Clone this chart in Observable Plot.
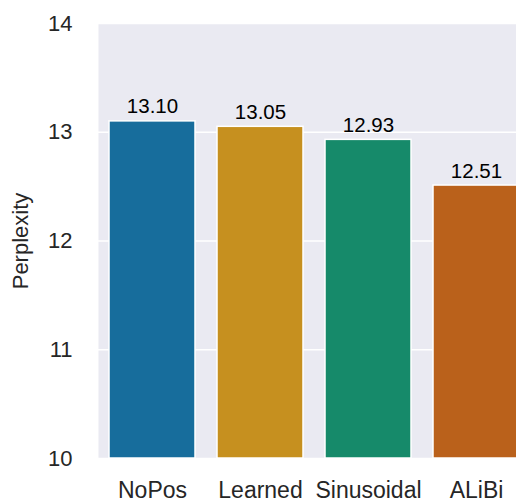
<!DOCTYPE html>
<html>
<head>
<meta charset="utf-8">
<script src="https://cdn.jsdelivr.net/npm/d3@7"></script>
<script src="https://cdn.jsdelivr.net/npm/@observablehq/plot@0.6"></script>
<style>
  html, body { margin: 0; padding: 0; background: #fff; overflow: hidden; }
  #chart svg { overflow: hidden; }
</style>
</head>
<body>
<div id="chart"></div>
<script>
const categories = ["NoPos", "Learned", "Sinusoidal", "ALiBi"];
const perplexity = [13.10, 13.05, 12.93, 12.51];
const colors = ["#176D9C", "#C6901F", "#168A6A", "#BA611B"];
const yTicks = [10, 11, 12, 13, 14];

const data = categories.map((c, i) => ({ name: c, value: perplexity[i], base: 10 }));

const chart = Plot.plot({
  width: 516,
  height: 502,
  marginLeft: 98,
  marginRight: -14,
  marginTop: 23,
  marginBottom: 44,
  style: { fontFamily: "'Liberation Sans', Arial, sans-serif", fontSize: "22px", color: "#262626", background: "#fff", overflow: "hidden" },
  x: { domain: categories, paddingInner: 0.2, paddingOuter: 0.1, label: null, tickSize: 0, tickPadding: 23 },
  y: { domain: [10, 14], ticks: yTicks, label: "Perplexity", labelAnchor: "center", labelArrow: "none", labelOffset: 86, tickSize: 0, tickPadding: 26, tickFormat: d => String(d) },
  color: { domain: categories, range: colors },
  marks: [
    Plot.frame({ fill: "#EAEAF2", stroke: null }),
    Plot.gridY(yTicks, { stroke: "#fff", strokeOpacity: 1, strokeWidth: 1.6 }),
    Plot.barY(data, { x: "name", y1: "base", y2: "value", fill: "name", stroke: "#fff", strokeWidth: 1.5 }),
    Plot.text(data, { x: "name", y: "value", text: d => d.value.toFixed(2), lineAnchor: "bottom", dy: -8, fontSize: 20.5, fill: "#000" }),
    Plot.axisX({ fontSize: 23, tickSize: 0, tickPadding: 23, label: null })
  ]
});
document.getElementById("chart").appendChild(chart);
</script>
</body>
</html>
